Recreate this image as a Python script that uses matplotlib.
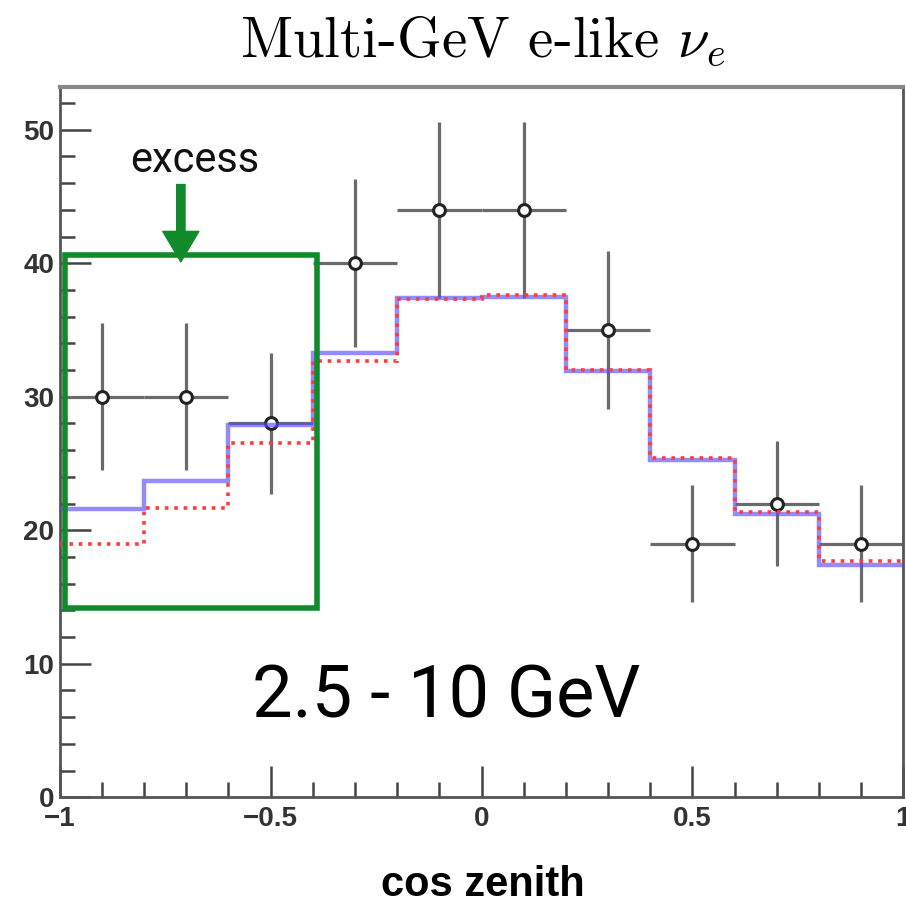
import numpy as np
import matplotlib.pyplot as plt
from matplotlib.ticker import MultipleLocator

plt.rcParams['mathtext.fontset'] = 'cm'

# bins in cos zenith
bin_edges = [-1.0, -0.8, -0.6, -0.4, -0.2, 0.0, 0.2, 0.4, 0.6, 0.8, 1.0]
bin_centers = [-0.9, -0.7, -0.5, -0.3, -0.1, 0.1, 0.3, 0.5, 0.7, 0.9]

# data points with errors
data_counts = [30, 30, 28, 40, 44, 44, 35, 19, 22, 19]
data_err = [5.5, 5.5, 5.3, 6.3, 6.6, 6.6, 5.9, 4.4, 4.7, 4.4]

# MC expectations
mc_blue = [21.6, 23.7, 27.9, 33.3, 37.4, 37.5, 31.9, 25.3, 21.2, 17.4]
mc_red = [19.0, 21.7, 26.5, 32.7, 37.3, 37.6, 32.0, 25.4, 21.4, 17.7]

fig = plt.figure(figsize=(9.06, 9.07), dpi=100)
ax = fig.add_axes([0.066, 0.121, 0.931, 0.783])

# data
ax.errorbar(bin_centers, data_counts, yerr=data_err, xerr=0.1, fmt='o',
            ms=8.5, mfc='white', mec='#222222', mew=2.2,
            ecolor='#6a6a6a', elinewidth=2.3, capsize=0, zorder=2)

# histograms
ax.stairs(mc_blue, bin_edges, baseline=None, color='#5b4dff', lw=3.2,
          alpha=0.65, zorder=3)
ax.stairs(mc_red, bin_edges, baseline=None, color='#ff3b3b', lw=2.6,
          linestyle=(0, (1, 1.6)), zorder=4)

# excess box + arrow
ax.add_patch(plt.Rectangle((-0.988, 14.2), 0.598, 26.4, fill=False,
                           ec='#118a2c', lw=4, zorder=5))
ax.annotate('', xy=(-0.713, 40.1), xytext=(-0.713, 45.9),
            arrowprops=dict(facecolor='#118a2c', edgecolor='#118a2c',
                            width=6, headwidth=26, headlength=22),
            zorder=6)
ax.text(-0.68, 47.7, 'excess', ha='center', va='center', fontsize=30,
        family=['Roboto', 'Liberation Sans'], color='#111111')

ax.text(-0.084, 7.4, '2.5 - 10 GeV', ha='center', va='center', fontsize=52,
        family=['Roboto', 'Liberation Sans'], color='black')

ax.set_xlim(-1, 1)
ax.set_ylim(0, 53.2)

ax.xaxis.set_major_locator(MultipleLocator(0.5))
ax.xaxis.set_minor_locator(MultipleLocator(0.1))
ax.yaxis.set_major_locator(MultipleLocator(10))
ax.yaxis.set_minor_locator(MultipleLocator(2))
ax.tick_params(which='both', direction='in', color='#444444', width=1.8,
               top=False, right=False)
ax.tick_params(which='major', length=22, pad=4)
ax.tick_params(axis='x', which='major', pad=6)
ax.tick_params(which='minor', length=11)
ax.set_xticks([-1, -0.5, 0, 0.5, 1], ['\u22121', '\u22120.5', '0', '0.5', '1'])

for lab in ax.get_xticklabels() + ax.get_yticklabels():
    lab.set_fontfamily('Liberation Sans')
    lab.set_fontweight('bold')
    lab.set_fontsize(20)
    lab.set_color('#333333')

for s in ax.spines.values():
    s.set_color('#555555')
    s.set_linewidth(2)
ax.spines['top'].set_color('#888888')
ax.spines['top'].set_linewidth(3)

fig.text(0.533, 0.024, 'cos zenith', ha='center', va='center', fontsize=30,
         fontweight='bold', family='Liberation Sans')

fig.text(0.533, 0.955, r'Multi-GeV e-like $\nu_e$', ha='center', va='center',
         fontsize=41, family='cmr10')

fig.savefig('out.png', dpi=100)
